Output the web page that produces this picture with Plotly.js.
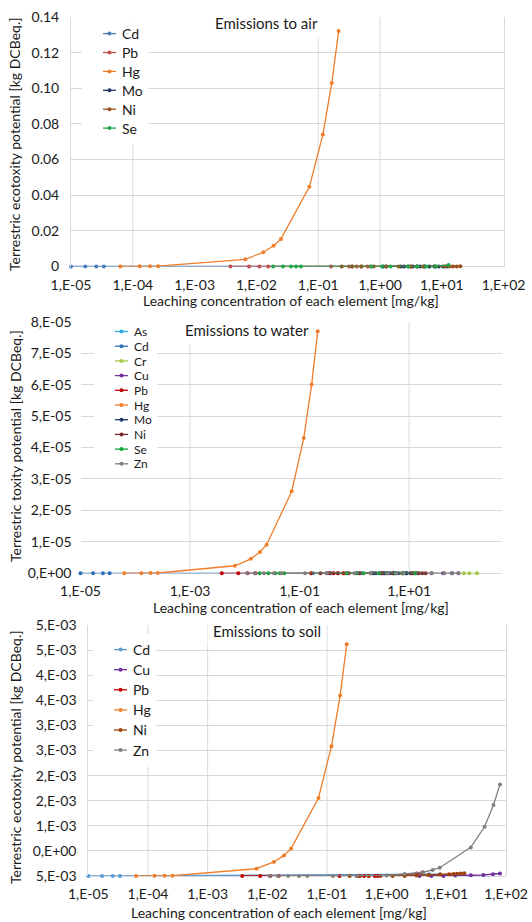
<!DOCTYPE html>
<html><head><meta charset="utf-8">
<script src="https://cdn.plot.ly/plotly-3.0.1.min.js"></script>
<style>html,body{margin:0;padding:0;background:#fff}#chart{width:532px;height:922px}</style>
</head><body><div id="chart"></div>
<script>
// ---------------- tick labels ----------------
const xTickVals = [1e-5, 1e-4, 1e-3, 1e-2, 1e-1, 1, 10, 100];
const xTickText = ["1,E-05", "1,E-04", "1,E-03", "1,E-02", "1,E-01", "1,E+00", "1,E+01", "1,E+02"];
const xTickValsWater = [1e-5, 1e-3, 1e-1, 10];
const xTickTextWater = ["1,E-05", "1,E-03", "1,E-01", "1,E+01"];
const yTickValsAir = [0, 0.02, 0.04, 0.06, 0.08, 0.10, 0.12, 0.14];
const yTickTextAir = ["0", "0.02", "0.04", "0.06", "0.08", "0.10", "0.12", "0.14"];
const yTickValsWater = [0, 1e-5, 2e-5, 3e-5, 4e-5, 5e-5, 6e-5, 7e-5, 8e-5];
const yTickTextWater = ["0,E+00", "1,E-05", "2,E-05", "3,E-05", "4,E-05", "5,E-05", "6,E-05", "7,E-05", "8,E-05"];
const yTickValsSoil = [0, 5e-4, 1e-3, 1.5e-3, 2e-3, 2.5e-3, 3e-3, 3.5e-3, 4e-3, 4.5e-3, 5e-3];
const yTickTextSoil = ["5,E-03", "0,E+00", "1,E-03", "2,E-03", "2,E-03", "3,E-03", "3,E-03", "4,E-03", "4,E-03", "5,E-03", "5,E-03"];
// decades carrying a visible vertical gridline in each panel
const gridXAir = [1e-4, 1e-1, 1];
const gridXWater = [1e-3, 10];
const gridXSoil = [1e-4, 1e-3, 1e-1];

// ---------------- leaching concentrations [mg/kg] ----------------
const cdX = [1.0e-5, 1.7e-5, 2.57e-5, 3.4e-5, 5.2, 7.8];
const pbX = [3.8e-3, 7.6e-3, 1.12e-2, 1.55e-2, 0.162, 0.316, 0.355, 0.42, 0.5, 0.63, 0.71, 3.16, 3.98];
const hgX = [6.3e-5, 1.29e-4, 1.9e-4, 2.57e-4, 6.6e-3, 1.29e-2, 1.9e-2, 2.5e-2, 7.2e-2, 0.119, 0.166, 0.214];
const moX = [1.12, 1.26, 2.19, 2.45, 2.88, 3.39, 3.98, 4.47, 5.25, 6.31, 7.59, 8.91, 10.5, 12.0];
const niX = [0.24, 0.355, 0.5, 0.79, 1.26, 2.0, 3.16, 5.0, 7.9, 11.2, 13.2, 15.1, 17.4, 20.0];
const seX = [0.0186, 0.0269, 0.0363, 0.0437, 0.0525, 0.724, 1.07, 1.48, 2.82, 3.98, 5.62, 7.94, 12.9];
const asX = [0.178, 0.398, 1.41, 3.55, 8.9];
const crX = [0.63, 2.2, 7.1, 100, 126, 174];
const cuX = [3.55, 5.62, 8.91, 14.1, 25.7, 41.7, 60.3, 79.4];
const znX = [0.011, 0.0151, 0.0224, 0.0339, 0.0468, 0.126, 0.316, 1.0, 2.0, 4.07, 5.89, 7.76, 25.7, 43.7, 61.7, 79.4];

// ---------------- emissions to air [kg DCBeq.] ----------------
const airCd = [0, 0, 0, 0, 0, 0];
const airPb = [0, 0, 0, 0, 0, 0, 0, 0, 0, 0, 0, 0, 0];
const airHg = [0.00004, 0.00008, 0.00012, 0.00016, 0.0040, 0.0080, 0.0116, 0.0155, 0.0447, 0.0740, 0.1030, 0.1321];
const airMo = [0, 0, 0, 0, 0, 0, 0, 0, 0, 0, 0, 0, 0, 0];
const airNi = [0, 0, 0, 0, 0, 0, 0, 0, 0, 0, 0, 0, 0, 0.0002];
const airSe = [0, 0, 0, 0, 0, 0, 0, 0, 0, 0, 0, 0, 0.0008];

// ---------------- emissions to water ----------------
const waterAs = [0, 0, 0, 0, 0];
const waterCd = [0, 0, 0, 0, 0, 0];
const waterCr = [0, 0, 0, 0, 0, 0];
const waterCu = [0, 0, 0, 0, 0, 0, 0, 0];
const waterPb = [0, 0, 0, 0, 0, 0, 0, 0, 0, 0, 0, 0, 0];
const waterHg = [2.3e-8, 4.6e-8, 6.8e-8, 9.2e-8, 2.4e-6, 4.6e-6, 6.8e-6, 9.1e-6, 2.61e-5, 4.30e-5, 6.0e-5, 7.70e-5];
const waterMo = [0, 0, 0, 0, 0, 0, 0, 0, 0, 0, 0, 0, 0, 0];
const waterNi = [0, 0, 0, 0, 0, 0, 0, 0, 0, 0, 0, 0, 0, 0];
const waterSe = [0, 0, 0, 0, 0, 0, 0, 0, 0, 0, 0, 0, 0];
const waterZn = [0, 0, 0, 0, 0, 0, 0, 0, 0, 0, 0, 0, 0, 0, 0, 0];

// ---------------- emissions to soil ----------------
const soilCd = [0, 0, 0, 0, 0.000035, 0.000035];
const soilCu = [0, 0, 0, 0.00001, 0.000015, 0.00002, 0.000035, 0.00005];
const soilPb = [0, 0, 0, 0, 0, 0, 0, 0, 0, 0, 0, 0.000048, 0.000068];
const soilHg = [0.0000014, 0.0000028, 0.000004, 0.0000055, 0.000145, 0.00028, 0.00041, 0.000545, 0.001555, 0.002585, 0.003595, 0.004615];
const soilNi = [0, 0, 0, 0, 0, 0, 0.00001, 0.00002, 0.00003, 0.000035, 0.00004, 0.000045, 0.00005, 0.000055];
const soilZn = [0, 0, 0, 0, 0, 0, 0, 0.00001, 0.00004, 0.000075, 0.00012, 0.000165, 0.00057, 0.00098, 0.001415, 0.001825];

// ---------------- styling ----------------
const FONT = 'Lato, "Open Sans", sans-serif';
const TXT = '#1a1a1a';
const GRID = '#d9d9d9';
const W = 532, H = 922;
const px = v => v / W, py = v => 1 - v / H;

function series(name, x, y, color, ax, legend) {
  return {
    type: 'scatter', mode: 'lines+markers', name: name, x: x, y: y,
    xaxis: 'x' + ax, yaxis: 'y' + ax, legend: legend,
    line: {color: color, width: 1.3},
    marker: {color: color, size: 4},
    cliponaxis: false, hoverinfo: 'skip'
  };
}

const traces = [
  series('Cd', cdX, airCd, '#4a7ebb', '', 'legend'),
  series('Pb', pbX, airPb, '#c0504d', '', 'legend'),
  series('Hg', hgX, airHg, '#ef7d2a', '', 'legend'),
  series('Mo', moX, airMo, '#1f3864', '', 'legend'),
  series('Ni', niX, airNi, '#9c4f1e', '', 'legend'),
  series('Se', seX, airSe, '#1fa84a', '', 'legend'),

  series('As', asX, waterAs, '#2fa8dc', '2', 'legend2'),
  series('Cd', cdX, waterCd, '#2e6fbd', '2', 'legend2'),
  series('Cr', crX, waterCr, '#a5c64c', '2', 'legend2'),
  series('Cu', cuX, waterCu, '#7030a0', '2', 'legend2'),
  series('Pb', pbX, waterPb, '#c00000', '2', 'legend2'),
  series('Hg', hgX, waterHg, '#ef7d2a', '2', 'legend2'),
  series('Mo', moX, waterMo, '#1f3864', '2', 'legend2'),
  series('Ni', niX, waterNi, '#7a2a2a', '2', 'legend2'),
  series('Se', seX, waterSe, '#13a538', '2', 'legend2'),
  series('Zn', znX, waterZn, '#7f7f7f', '2', 'legend2'),

  series('Cd', cdX, soilCd, '#5b9bd5', '3', 'legend3'),
  series('Cu', cuX, soilCu, '#7030a0', '3', 'legend3'),
  series('Pb', pbX, soilPb, '#c00000', '3', 'legend3'),
  series('Hg', hgX, soilHg, '#ef7d2a', '3', 'legend3'),
  series('Ni', niX, soilNi, '#a0440c', '3', 'legend3'),
  series('Zn', znX, soilZn, '#808080', '3', 'legend3')
];

function xAxis(dom, range, tv, tt, anchor) {
  return {type: 'log', domain: dom, range: range, tickvals: tv, ticktext: tt,
    showgrid: false, zeroline: false, showline: false, ticks: '', ticklabelstandoff: 8,
    tickfont: {family: FONT, size: 14, color: TXT}, anchor: anchor, fixedrange: true};
}
function yAxis(dom, range, tv, tt, anchor, frame) {
  return {domain: dom, range: range, tickvals: tv, ticktext: tt,
    showgrid: true, gridcolor: GRID, gridwidth: 1, zeroline: true, zerolinecolor: GRID, zerolinewidth: 1,
    showline: frame, mirror: frame, linecolor: GRID, linewidth: 1, ticks: '', ticklabelstandoff: 8,
    tickfont: {family: FONT, size: 14, color: TXT}, anchor: anchor, fixedrange: true};
}
// vertical gridlines at chosen decades (values in data units)
function vGrid(vals, ax) {
  return vals.map(v => ({type: 'line', xref: 'x' + ax, yref: 'y' + ax + ' domain',
    x0: v, x1: v, y0: 0, y1: 1, layer: 'below', line: {color: GRID, width: 1}}));
}
function legendBox(xp, yp, size) {
  return {x: px(xp), y: py(yp), xanchor: 'left', yanchor: 'top', bgcolor: '#ffffff', borderwidth: 0,
    font: {family: FONT, size: size, color: TXT}, itemwidth: 30, tracegroupgap: 0, itemclick: false, itemdoubleclick: false};
}
function label(text, xp, yp, size, angle, bg) {
  const a = {text: text, xref: 'paper', yref: 'paper', x: px(xp), y: py(yp), xanchor: 'center', yanchor: 'middle',
    showarrow: false, font: {family: FONT, size: size, color: TXT}};
  if (angle) a.textangle = angle;
  if (bg) { a.bgcolor = '#ffffff'; a.borderpad = 5; }
  return a;
}

const XT = 'Leaching concentration of each element [mg/kg]';
const layout = {
  width: W, height: H, margin: {l: 0, r: 0, t: 0, b: 0},
  paper_bgcolor: '#ffffff', plot_bgcolor: '#ffffff', hovermode: false,
  font: {family: FONT, size: 14, color: TXT},
  showlegend: true,
  xaxis: xAxis([px(71), px(503.6)], [-5, 2], xTickVals, xTickText, 'y'),
  yaxis: yAxis([py(266.5), py(17)], [0, 0.14], yTickValsAir, yTickTextAir, 'x', true),
  xaxis2: xAxis([px(80.5), px(501.7)], [-5, 2.69], xTickValsWater, xTickTextWater, 'y2'),
  yaxis2: yAxis([py(573.3), py(321.7)], [0, 8e-5], yTickValsWater, yTickTextWater, 'x2', false),
  xaxis3: xAxis([px(88.3), px(506)], [-5, 2], xTickVals, xTickText, 'y3'),
  yaxis3: yAxis([py(876), py(625)], [0, 5e-3], yTickValsSoil, yTickTextSoil, 'x3', true),
  legend: legendBox(82, 18, 14),
  legend2: legendBox(94, 317, 12),
  legend3: legendBox(93, 634, 14),
  shapes: [].concat(vGrid(gridXAir, ''), vGrid(gridXWater, '2'), vGrid(gridXSoil, '3')),
  annotations: [
    label('Emissions to air', 266, 23.5, 15, 0, true),
    label('Emissions to water', 247, 330, 15, 0, true),
    label('Emissions to soil', 266.5, 631, 15, 0, true),
    label(XT, 291, 300.5, 14),
    label(XT, 301, 607.5, 14),
    label(XT, 279, 912, 14),
    label('Terrestric ecotoxity potential [kg DCBeq.]', 15, 145, 14, -90),
    label('Terrestric toxity potential [kg DCBeq.]', 15, 446, 14, -90),
    label('Terrestric ecotoxity potential [kg DCBeq.]', 15, 758, 14, -90)
  ]
};

// compact legend rows and short legend symbols, as in the reference
function tightenLegend(gd, id, spacing) {
  const lg = gd.querySelector('.infolayer g.' + id);
  if (!lg) return;
  const items = Array.from(lg.querySelectorAll('g.traces'));
  if (items.length < 2) return;
  const parse = el => {
    const m = /translate\(\s*([-\d.e]+)[ ,]+([-\d.e]+)\s*\)/.exec(el.getAttribute('transform') || '');
    return m ? [parseFloat(m[1]), parseFloat(m[2])] : null;
  };
  const p0 = parse(items[0]), pl = parse(items[items.length - 1]);
  if (!p0 || !pl) return;
  items.forEach((it, i) => {
    const p = parse(it);
    if (p) it.setAttribute('transform', 'translate(' + p[0] + ',' + (p0[1] + i * spacing) + ')');
    it.querySelectorAll('path.js-line').forEach(l => l.setAttribute('d', 'M21,0h13'));
    it.querySelectorAll('g.legendpoints path.scatterpts').forEach(s => s.setAttribute('transform', 'translate(27.5,0)'));
  });
  const shrink = (pl[1] - p0[1]) - (items.length - 1) * spacing;
  lg.querySelectorAll('rect.bg').forEach(bg => {
    const h = parseFloat(bg.getAttribute('height'));
    if (!isNaN(h)) bg.setAttribute('height', h - shrink);
  });
}

Plotly.newPlot('chart', traces, layout, {displayModeBar: false, responsive: false}).then(gd => {
  try {
    tightenLegend(gd, 'legend', 18.9);
    tightenLegend(gd, 'legend2', 14.7);
    tightenLegend(gd, 'legend3', 20.1);
  } catch (e) {}
});
</script>
</body></html>
